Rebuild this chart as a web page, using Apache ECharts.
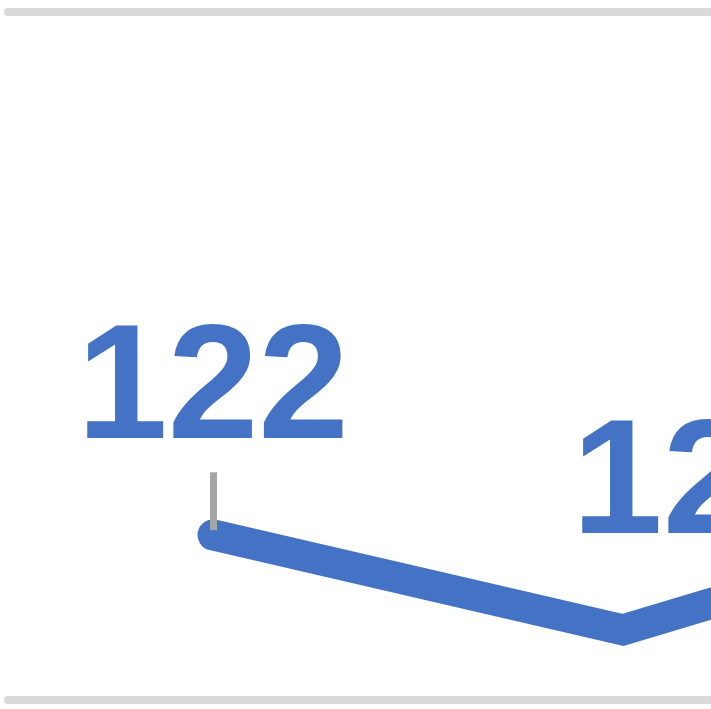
<!DOCTYPE html>
<html>
<head>
<meta charset="utf-8">
<script src="https://cdn.jsdelivr.net/npm/echarts@6/dist/echarts.min.js"></script>
<style>
    html, body { margin: 0; padding: 0; background: #ffffff; }
    #main { width: 711px; height: 709px; }
</style>
</head>
<body>
<div id="main"></div>
<script>
// 数据
var categories = ['A', 'B', 'C'];
var values = [122, 121, 122.3];
// 第一个点上方的灰色短线(数值单位, 相对于点)
var leaderFrom = 0.05;
var leaderTo = 0.66;
// 标签横向偏移
var labelShift = [0, 85, 0];

var blue = '#4472C4';
var gray = '#D9D9D9';

// 用序号作为 x, 只显示局部(放大效果)
var seriesData = values.map(function (v, i) {
    return {
        name: categories[i],
        value: [i, v],
        label: { offset: [labelShift[i], 0] }
    };
});

var axisCommon = {
    type: 'value',
    min: -0.5,
    max: 1.2146,
    axisLine: { show: true, onZero: false, lineStyle: { color: gray, width: 8 } },
    axisTick: { show: false },
    axisLabel: { show: false },
    splitLine: { show: false }
};

var myChart = echarts.init(document.getElementById('main'));
myChart.setOption({
    animation: false,
    grid: {
        left: 8,
        right: 0,
        top: 12,
        bottom: 9.5
    },
    xAxis: [
        Object.assign({ position: 'bottom' }, axisCommon),
        Object.assign({ position: 'top' }, axisCommon)
    ],
    yAxis: {
        type: 'value',
        min: 120.268,
        max: 127.505,
        show: false,
        splitLine: { show: false }
    },
    series: [{
        type: 'line',
        data: seriesData,
        symbol: 'circle',
        symbolSize: 1,
        itemStyle: { color: blue },
        clip: false,
        lineStyle: { color: blue, width: 31, cap: 'round', join: 'miter' },
        label: {
            show: true,
            position: 'top',
            distance: 81,
            color: blue,
            fontFamily: 'Liberation Sans',
            fontWeight: 'bold',
            fontSize: 163,
            lineHeight: 120,
            formatter: function (p) { return String(p.value[1]); }
        },
        markLine: {
            silent: true,
            symbol: 'none',
            label: { show: false },
            lineStyle: { color: '#A5A5A5', width: 7, type: 'solid' },
            data: [[
                { coord: [0, values[0] + leaderFrom] },
                { coord: [0, values[0] + leaderTo] }
            ]]
        }
    }]
});
</script>
</body>
</html>
